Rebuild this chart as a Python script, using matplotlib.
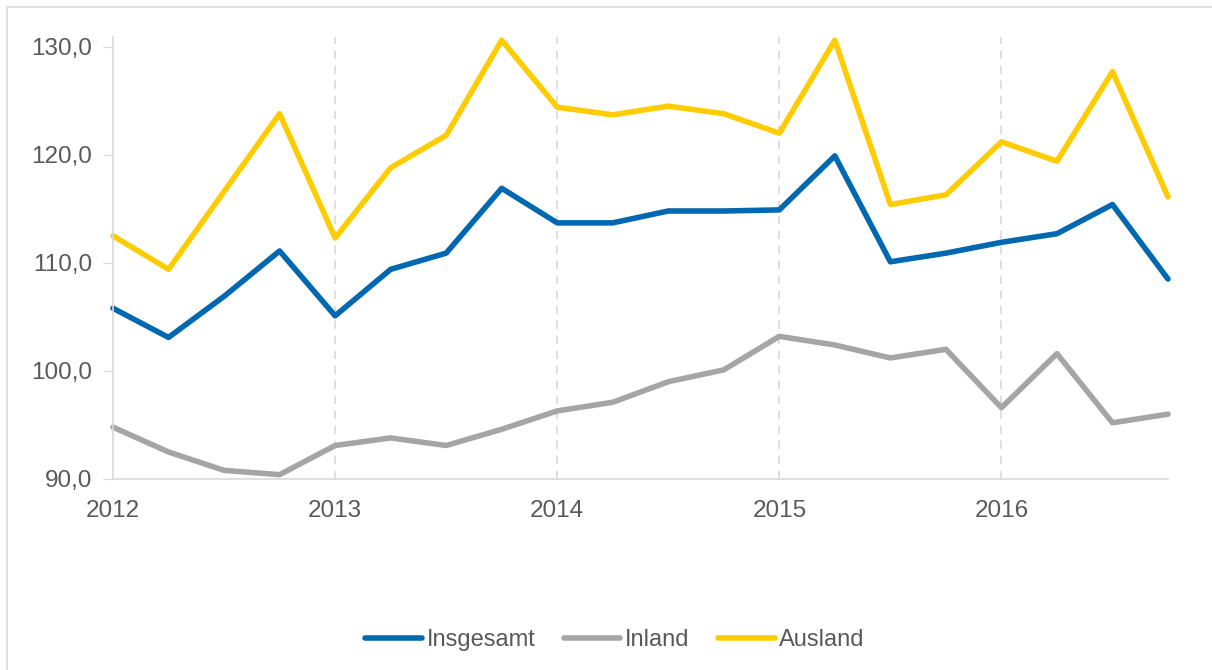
import numpy as np
import matplotlib.pyplot as plt
from matplotlib.patches import Rectangle

plt.rcParams['font.family'] = ['Liberation Sans', 'DejaVu Sans']

# quarterly values, 2012 Q1 .. 2016 Q4
quarters = 2012 + np.arange(20) * 0.25
insgesamt = [105.8, 103.1, 106.9, 111.1, 105.1, 109.4, 110.9, 116.9, 113.7, 113.7,
             114.8, 114.8, 114.9, 119.9, 110.1, 110.9, 111.9, 112.7, 115.4, 108.5]
inland = [94.8, 92.5, 90.8, 90.4, 93.1, 93.8, 93.1, 94.6, 96.3, 97.1,
          99.0, 100.1, 103.2, 102.4, 101.2, 102.0, 96.6, 101.6, 95.2, 96.0]
ausland = [112.5, 109.4, 116.6, 123.8, 112.3, 118.8, 121.8, 130.6, 124.4, 123.7,
           124.5, 123.8, 122.0, 130.6, 115.4, 116.3, 121.2, 119.4, 127.7, 116.1]
year_ticks = [2012, 2013, 2014, 2015, 2016]
y_ticks = [90, 100, 110, 120, 130]

txt = '#595959'
grid_c = '#D9D9D9'

fig = plt.figure(figsize=(12.12, 6.7), dpi=100)
ax = fig.add_axes([113/1212, 1-479/670, (1168-113)/1212, (479-37)/670])

# outer frame
fig.patches.append(Rectangle((7/1212, -0.1), 1.2, 1-7/670+0.1, transform=fig.transFigure,
                             fill=False, edgecolor=grid_c, linewidth=1.2))

for yr in year_ticks[1:]:
    ax.axvline(yr, color=grid_c, linestyle=(0, (5, 4)), linewidth=1.2, zorder=0)

ax.plot(quarters, insgesamt, color='#0068B0', lw=4, label='Insgesamt',
        solid_capstyle='round', clip_on=False)
ax.plot(quarters, inland, color='#A5A5A5', lw=4, label='Inland',
        solid_capstyle='round', clip_on=False)
ax.plot(quarters, ausland, color='#FFCC00', lw=4, label='Ausland',
        solid_capstyle='round', clip_on=False)

ax.set_xlim(2012, 2016.75)
ax.set_ylim(90, 130.9)
ax.set_xticks(year_ticks)
ax.set_xticklabels([str(y) for y in year_ticks])
ax.set_yticks(y_ticks)
ax.set_yticklabels([f'{v},0' for v in y_ticks])

for s in ['top', 'right']:
    ax.spines[s].set_visible(False)
for s in ['left', 'bottom']:
    ax.spines[s].set_color(grid_c)
    ax.spines[s].set_linewidth(1.2)

ax.tick_params(axis='y', length=7, color=grid_c, labelsize=17.5, labelcolor=txt, pad=8)
ax.tick_params(axis='x', length=0, labelsize=17.5, labelcolor=txt, pad=15)

fig.legend(loc='center', bbox_to_anchor=(615/1212, 1-640/670), ncol=3, frameon=False,
           fontsize=17, labelcolor=txt, handlelength=2.4, handletextpad=0.2,
           columnspacing=1.2)

fig.savefig('out.png', dpi=100)
